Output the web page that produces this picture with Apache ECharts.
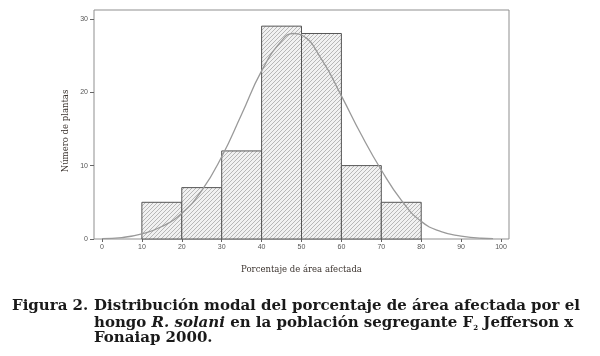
<!DOCTYPE html>
<html><head><meta charset="utf-8">
<script src="https://cdn.jsdelivr.net/npm/echarts@6/dist/echarts.min.js"></script>
<style>html,body{margin:0;padding:0;background:#fff}#c{width:600px;height:356px}</style>
</head><body><div id="c"></div>
<script>
// ---- data ----
const binStarts = [10, 20, 30, 40, 50, 60, 70];
const binWidth = 10;
const counts = [5, 7, 12, 29, 28, 10, 5];
const curveX = [0, 5, 10, 15, 20, 25, 30, 35, 40, 45, 48, 50, 55, 60, 65, 70, 75, 80, 85, 90, 95, 98];
const curveY = [0.05, 0.2, 0.7, 1.7, 3.5, 6.6, 11.2, 17, 22.9, 27, 28, 27.8, 24.5, 19.5, 14.2, 9.4, 5.3, 2.4, 1.0, 0.4, 0.1, 0.05];
const xTicks = [0, 10, 20, 30, 40, 50, 60, 70, 80, 90, 100];
const yTicks = [0, 10, 20, 30];
const xTitle = 'Porcentaje de área afectada';
const yTitle = 'Número de plantas';
const captionLabel = 'Figura 2.';
const captionLines = [
  'Distribución modal del porcentaje de área afectada por el',
  ['hongo ', {i: 'R. solani'}, ' en la población segregante F', {s: '2'}, ' Jefferson x'],
  'Fonaiap 2000.'
];

// ---- hatch pattern ----
const pc = document.createElement('canvas');
pc.width = 4; pc.height = 4;
const g = pc.getContext('2d');
g.fillStyle = '#f1f1f1'; g.fillRect(0, 0, 4, 4);
g.strokeStyle = '#a8a8a8'; g.lineWidth = 0.8;
g.beginPath();
g.moveTo(-1, 5); g.lineTo(5, -1);
g.moveTo(-1, 1); g.lineTo(1, -1);
g.moveTo(3, 5); g.lineTo(5, 3);
g.stroke();
const hatch = {image: pc, repeat: 'repeat'};

const histData = binStarts.map((s, i) => [s, s + binWidth, counts[i]]);
const curveData = curveX.map((x, i) => [x, curveY[i]]);

function richLine(parts) {
  if (typeof parts === 'string') return parts;
  return parts.map(p => typeof p === 'string' ? p : (p.i ? '{i|' + p.i + '}' : '{s|' + p.s + '}')).join('');
}

const FS = 15;
const capFont = {fontFamily: 'DejaVu Serif', fontWeight: 'bold', fontSize: FS, fill: '#1a1a1a'};
const graphics = [
  {type: 'text', x: 66, y: 131, rotation: Math.PI / 2, style: {text: yTitle, fontFamily: 'DejaVu Serif', fontSize: 8.5, fill: '#3d3530', align: 'center', verticalAlign: 'middle'}},
  {type: 'text', x: 12, y: 299, style: Object.assign({text: captionLabel}, capFont)}
];
captionLines.forEach((ln, k) => {
  graphics.push({type: 'text', x: 94, y: 299 + k * 16, style: Object.assign({
    text: richLine(ln),
    rich: {
      i: {fontFamily: 'DejaVu Serif', fontStyle: 'italic', fontWeight: 'bold', fontSize: FS, fill: '#1a1a1a'},
      s: {fontFamily: 'DejaVu Serif', fontWeight: 'bold', fontSize: 7, fill: '#1a1a1a', padding: [10, 0, 0, 0]}
    }
  }, capFont)});
});

const chart = echarts.init(document.getElementById('c'), null, {renderer: 'canvas'});
chart.setOption({
  animation: false,
  backgroundColor: '#fff',
  grid: {left: 94, right: 91, top: 10, bottom: 117, show: true, borderColor: '#8f8f8f', borderWidth: 1, backgroundColor: 'transparent'},
  xAxis: {
    type: 'value', min: -2, max: 102,
    axisLine: {show: false, onZero: false},
    splitLine: {show: false},
    axisTick: {show: true, length: 3, lineStyle: {color: '#666'}, customValues: xTicks},
    axisLabel: {customValues: xTicks, fontFamily: 'Liberation Sans', fontSize: 7, color: '#555', margin: 5},
    name: xTitle, nameLocation: 'middle', nameGap: 26,
    nameTextStyle: {fontFamily: 'DejaVu Serif', fontSize: 8.5, color: '#3d3530'}
  },
  yAxis: {
    type: 'value', min: 0, max: 31.2,
    axisLine: {show: false, onZero: false},
    splitLine: {show: false},
    axisTick: {show: true, length: 4, lineStyle: {color: '#666'}, customValues: yTicks},
    axisLabel: {customValues: yTicks, fontFamily: 'Liberation Sans', fontSize: 7, color: '#555', margin: 6}
  },
  graphic: graphics,
  series: [
    {
      type: 'custom',
      data: histData,
      encode: {x: [0, 1], y: 2},
      renderItem: function (params, api) {
        const p0 = api.coord([api.value(0), 0]);
        const p1 = api.coord([api.value(1), api.value(2)]);
        return {
          type: 'rect',
          shape: {x: p0[0], y: p1[1], width: p1[0] - p0[0], height: p0[1] - p1[1]},
          style: {fill: hatch, stroke: '#555', lineWidth: 1}
        };
      },
      z: 2
    },
    {
      type: 'line', data: curveData, smooth: true, showSymbol: false,
      lineStyle: {color: '#9a9a9a', width: 1.3}, z: 3
    }
  ]
});
</script></body></html>
